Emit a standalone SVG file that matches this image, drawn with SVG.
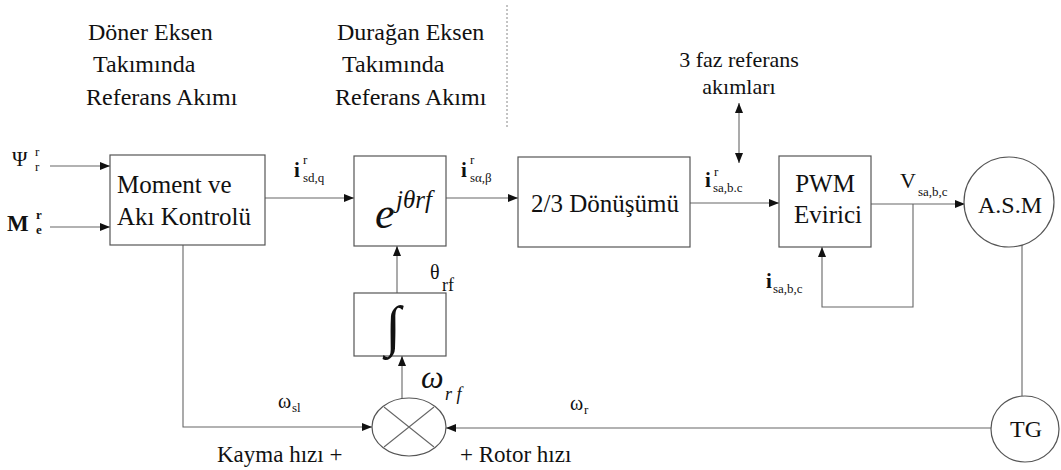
<svg xmlns="http://www.w3.org/2000/svg" width="1061" height="470" viewBox="0 0 1061 470">
<style>
.box{fill:#fff;stroke:#555;stroke-width:1.2}
.ln{fill:none;stroke:#666;stroke-width:1.1}
.t{font-family:"Liberation Serif","Times New Roman",serif;fill:#111}
.lab{font-size:23px}
.hd{font-size:24px}
.blk{font-size:25px}
.sub{font-size:13px}
.i{font-size:21px;font-weight:bold}
</style>
<defs>
<marker id="ar" viewBox="0 0 10 8" refX="10" refY="4" markerWidth="10" markerHeight="8" markerUnits="userSpaceOnUse" orient="auto-start-reverse">
<path d="M0,0 L10,4 L0,8 z" fill="#111"/>
</marker>
</defs>
<rect width="1061" height="470" fill="#fff"/>

<g id="headers">
<text class="t hd" x="88" y="40">Döner Eksen</text>
<text class="t hd" x="93" y="72">Takımında</text>
<text class="t hd" x="86" y="105">Referans Akımı</text>
<text class="t hd" x="337" y="40">Durağan Eksen</text>
<text class="t hd" x="342" y="72">Takımında</text>
<text class="t hd" x="335" y="105">Referans Akımı</text>
<text class="t" x="739" y="67" text-anchor="middle" font-size="22">3 faz referans</text>
<text class="t" x="739" y="94" text-anchor="middle" font-size="22">akımları</text>
<path d="M507,5 V128" fill="none" stroke="#888" stroke-width="1" stroke-dasharray="2 2"/>
</g>

<g id="connectors">
<path class="ln" d="M50,166 H110" marker-end="url(#ar)"/>
<path class="ln" d="M50,227 H110" marker-end="url(#ar)"/>
<path class="ln" d="M265,198 H354" marker-end="url(#ar)"/>
<path class="ln" d="M446,198 H518" marker-end="url(#ar)"/>
<path class="ln" d="M690,203 H779" marker-end="url(#ar)"/>
<path class="ln" d="M739,103 V163" marker-start="url(#ar)" marker-end="url(#ar)"/>
<path class="ln" d="M871,204 H965" marker-end="url(#ar)"/>
<path class="ln" d="M913,204 V307 H822 V247" marker-end="url(#ar)"/>
<path class="ln" d="M397,293 V246" marker-end="url(#ar)"/>
<path class="ln" d="M402,398 V356" marker-end="url(#ar)"/>
<path class="ln" d="M183,245 V427 H372" marker-end="url(#ar)"/>
<path class="ln" d="M991,428 H446" marker-end="url(#ar)"/>
<path class="ln" d="M1022,245 V396"/>
</g>

<g id="inputs">
<text class="t" x="12" y="166" font-size="21">Ψ</text>
<text class="t sub" x="35" y="156">r</text>
<text class="t sub" x="35" y="171">r</text>
<text class="t" x="7" y="231" font-size="23" font-weight="bold">M</text>
<text class="t sub" x="36" y="219" font-weight="bold">r</text>
<text class="t sub" x="36" y="234" font-weight="bold">e</text>
</g>

<g id="moment">
<rect class="box" x="110" y="155" width="155" height="90"/>
<text class="t blk" x="117" y="193">Moment ve</text>
<text class="t blk" x="117" y="225">Akı Kontrolü</text>
</g>

<g id="label-isdq">
<text class="t i" x="294" y="177">i</text>
<text class="t sub" x="303" y="164">r</text>
<text class="t sub" x="303" y="182">sd,q</text>
</g>

<g id="exp">
<rect class="box" x="354" y="156" width="92" height="90"/>
<text class="t" x="375" y="228" font-size="44" font-style="italic">e</text>
<text class="t" x="396" y="208" font-size="25" font-style="italic">jθrf</text>
</g>

<g id="label-isab">
<text class="t i" x="461" y="177">i</text>
<text class="t sub" x="470" y="164">r</text>
<text class="t sub" x="470" y="182">sα,β</text>
</g>

<g id="conv">
<rect class="box" x="518" y="157" width="172" height="90"/>
<text class="t blk" x="605" y="212" text-anchor="middle">2/3 Dönüşümü</text>
</g>

<g id="label-isabc">
<text class="t i" x="705" y="187">i</text>
<text class="t sub" x="714" y="176">r</text>
<text class="t sub" x="713" y="192">sa,b.c</text>
</g>

<g id="pwm">
<rect class="box" x="779" y="156" width="92" height="91"/>
<text class="t blk" x="825" y="192" text-anchor="middle">PWM</text>
<text class="t blk" x="828" y="223" text-anchor="middle">Evirici</text>
</g>

<g id="label-v">
<text class="t" x="900" y="188" font-size="22">V</text>
<text class="t sub" x="918" y="196">sa,b,c</text>
</g>

<g id="label-i-fb">
<text class="t i" x="766" y="288">i</text>
<text class="t sub" x="773" y="293">sa,b,c</text>
</g>

<g id="asm">
<circle class="box" cx="1009" cy="202" r="45"/>
<text class="t" x="1010" y="213" font-size="24" text-anchor="middle">A.S.M</text>
</g>

<g id="tg">
<ellipse class="box" cx="1025" cy="429" rx="34" ry="33"/>
<text class="t" x="1026" y="437" font-size="24" text-anchor="middle">TG</text>
</g>

<g id="integral">
<rect class="box" x="354" y="293" width="92" height="63"/>
<text class="t" x="393" y="345" font-size="56" text-anchor="middle">∫</text>
</g>

<g id="label-theta">
<text class="t" x="430" y="279" font-size="20">θ</text>
<text class="t" x="442" y="291" font-size="18">rf</text>
</g>

<g id="sum">
<ellipse class="box" cx="409" cy="427" rx="37" ry="29"/>
<path class="ln" d="M384,407 L434,447 M384,447 L434,407"/>
</g>

<g id="label-omega">
<text class="t" x="421" y="388" font-size="32" font-style="italic">ω</text>
<text class="t" x="445" y="400" font-size="18" font-style="italic">r f</text>
<text class="t" x="278" y="408" font-size="20">ω</text>
<text class="t sub" x="292" y="412">sl</text>
<text class="t" x="570" y="410" font-size="20">ω</text>
<text class="t sub" x="584" y="414">r</text>
<text class="t lab" x="217" y="462">Kayma hızı  +</text>
<text class="t lab" x="460" y="462">+  Rotor hızı</text>
</g>
</svg>
